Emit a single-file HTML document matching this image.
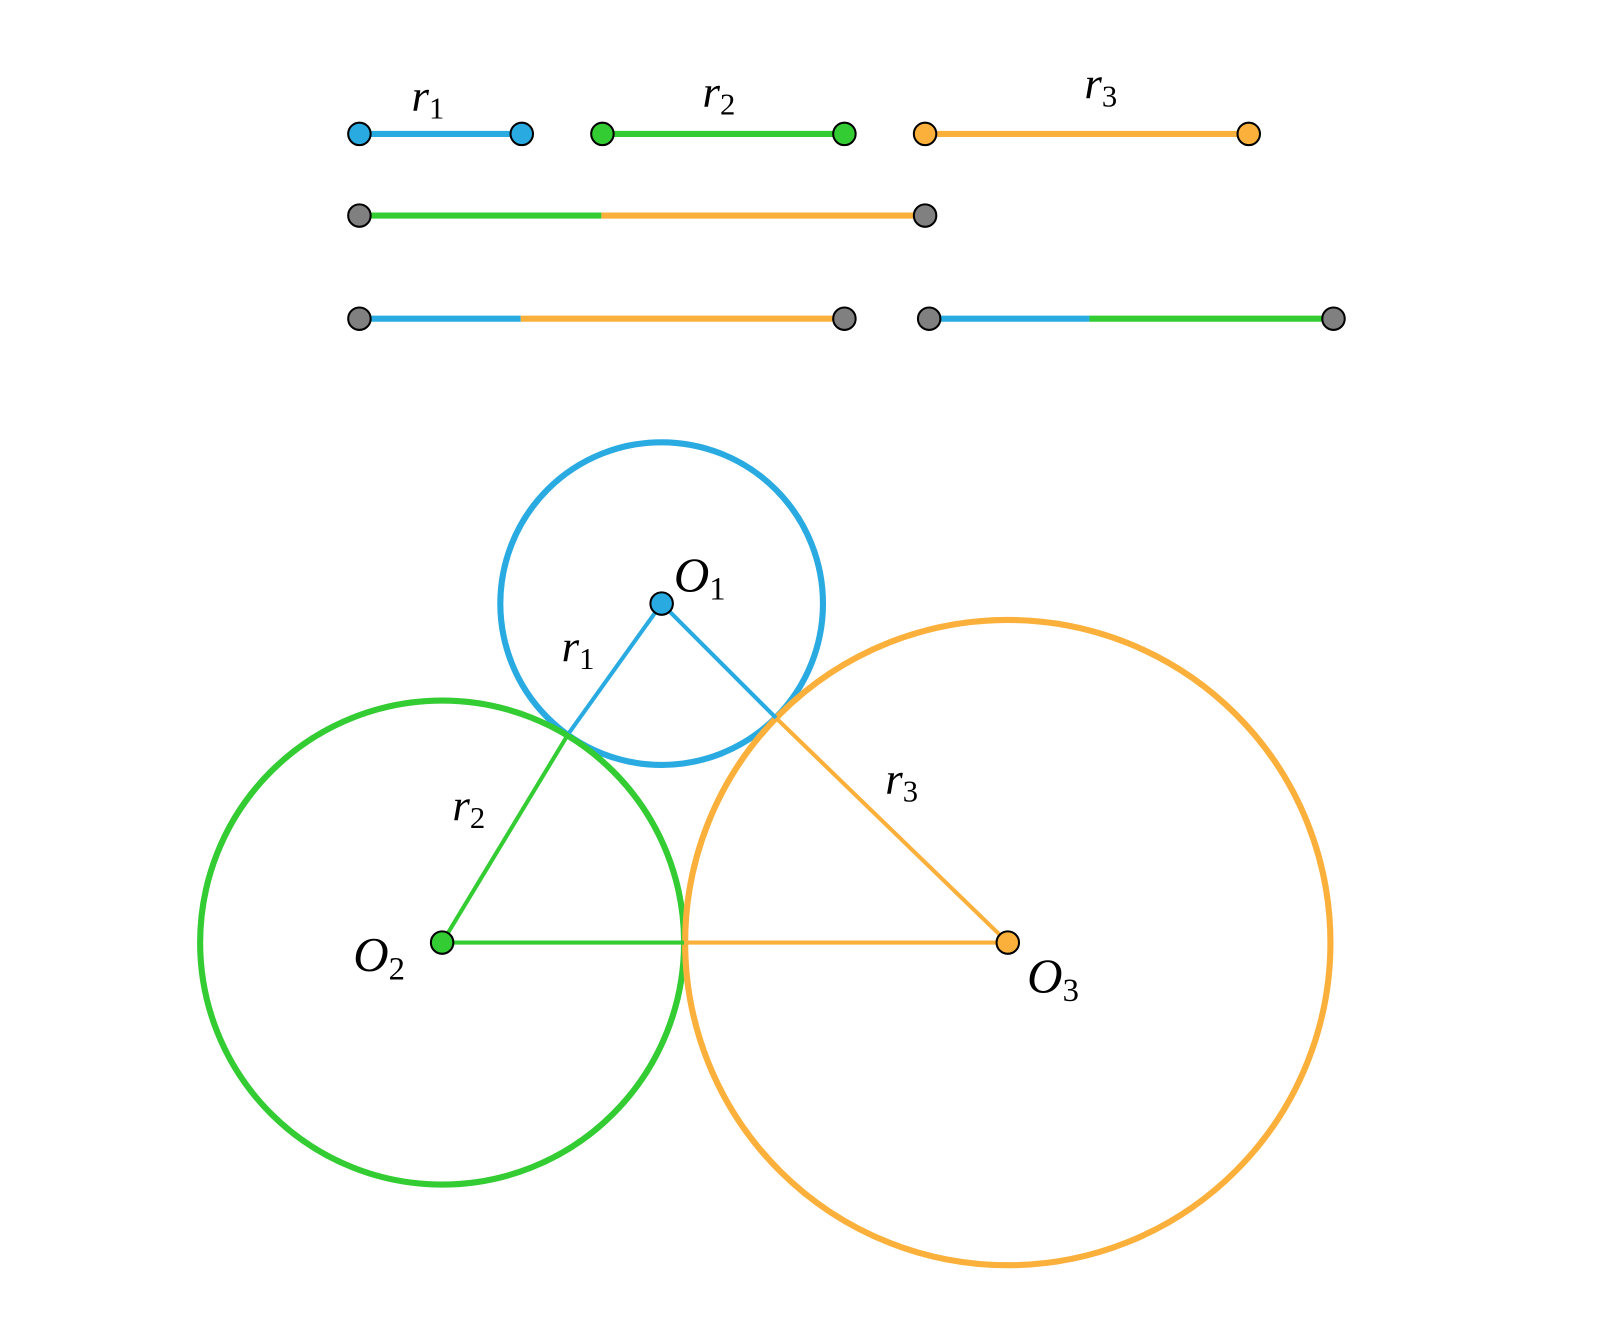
<!DOCTYPE html>
<html><head><meta charset="utf-8"><style>
html,body{margin:0;padding:0;background:#fff;}
svg{display:block;}
text{font-family:"Liberation Serif",serif;font-style:italic;fill:#000;}
</style></head><body>
<svg width="1600" height="1344" viewBox="0 0 1567 1316" xmlns="http://www.w3.org/2000/svg">
<g stroke-linecap="butt">
<line x1="352" y1="131" x2="511" y2="131" stroke="#29abe2" stroke-width="6"/>
<line x1="590" y1="131" x2="827" y2="131" stroke="#33cc33" stroke-width="6"/>
<line x1="906" y1="131" x2="1223" y2="131" stroke="#fbb03b" stroke-width="6"/>
<line x1="352" y1="211" x2="589" y2="211" stroke="#33cc33" stroke-width="6"/>
<line x1="589" y1="211" x2="906" y2="211" stroke="#fbb03b" stroke-width="6"/>
<line x1="352" y1="312" x2="510" y2="312" stroke="#29abe2" stroke-width="6"/>
<line x1="510" y1="312" x2="827" y2="312" stroke="#fbb03b" stroke-width="6"/>
<line x1="910" y1="312" x2="1067" y2="312" stroke="#29abe2" stroke-width="6"/>
<line x1="1067" y1="312" x2="1306" y2="312" stroke="#33cc33" stroke-width="6"/>
</g>
<g stroke="#000" stroke-width="2">
<circle cx="352" cy="131" r="11" fill="#29abe2"/>
<circle cx="511" cy="131" r="11" fill="#29abe2"/>
<circle cx="590" cy="131" r="11" fill="#33cc33"/>
<circle cx="827" cy="131" r="11" fill="#33cc33"/>
<circle cx="906" cy="131" r="11" fill="#fbb03b"/>
<circle cx="1223" cy="131" r="11" fill="#fbb03b"/>
<circle cx="352" cy="211" r="11" fill="#808080"/>
<circle cx="906" cy="211" r="11" fill="#808080"/>
<circle cx="352" cy="312" r="11" fill="#808080"/>
<circle cx="827" cy="312" r="11" fill="#808080"/>
<circle cx="910" cy="312" r="11" fill="#808080"/>
<circle cx="1306" cy="312" r="11" fill="#808080"/>
</g>
<text x="403" y="108" font-size="44">r<tspan font-size="30" font-style="normal" dy="8">1</tspan></text>
<text x="688" y="104" font-size="44">r<tspan font-size="30" font-style="normal" dy="8">2</tspan></text>
<text x="1062" y="96" font-size="44">r<tspan font-size="30" font-style="normal" dy="8">3</tspan></text>

<g fill="none" stroke-width="6">
<circle cx="648" cy="591" r="158" stroke="#29abe2"/>
<circle cx="433" cy="923" r="237" stroke="#33cc33"/>
<circle cx="987" cy="923" r="316" stroke="#fbb03b"/>
</g>
<g stroke-width="4">
<line x1="648" y1="591" x2="557" y2="718" stroke="#29abe2"/>
<line x1="557" y1="718" x2="433" y2="923" stroke="#33cc33"/>
<line x1="648" y1="591" x2="760" y2="703" stroke="#29abe2"/>
<line x1="760" y1="703" x2="987" y2="923" stroke="#fbb03b"/>
<line x1="433" y1="923" x2="670" y2="923" stroke="#33cc33"/>
<line x1="670" y1="923" x2="987" y2="923" stroke="#fbb03b"/>
</g>
<g stroke="#000" stroke-width="2">
<circle cx="648" cy="591" r="11" fill="#29abe2"/>
<circle cx="433" cy="923" r="11" fill="#33cc33"/>
<circle cx="987" cy="923" r="11" fill="#fbb03b"/>
</g>
<text x="660" y="579" font-size="48">O<tspan font-size="32" font-style="normal" dy="8">1</tspan></text>
<text x="346" y="951" font-size="48">O<tspan font-size="32" font-style="normal" dy="8">2</tspan></text>
<text x="1006" y="972" font-size="48">O<tspan font-size="32" font-style="normal" dy="8">3</tspan></text>
<text x="550" y="647" font-size="44">r<tspan font-size="30" font-style="normal" dy="8">1</tspan></text>
<text x="443" y="803" font-size="44">r<tspan font-size="30" font-style="normal" dy="8">2</tspan></text>
<text x="867" y="777" font-size="44">r<tspan font-size="30" font-style="normal" dy="8">3</tspan></text>
</svg>
</body></html>
